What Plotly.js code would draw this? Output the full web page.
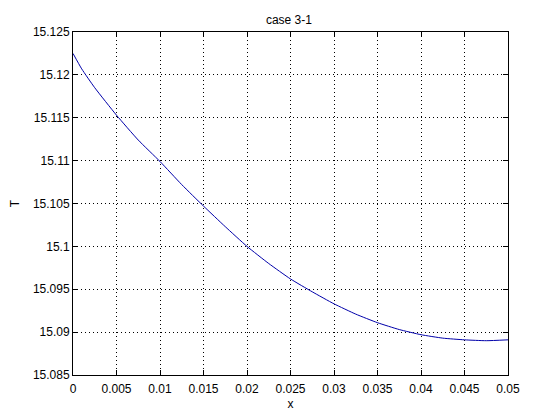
<!DOCTYPE html>
<html>
<head>
<meta charset="utf-8">
<script src="https://cdn.plot.ly/plotly-3.0.1.min.js"></script>
<style>html,body{margin:0;padding:0;background:#fff;}#chart{width:560px;height:420px;}</style>
</head>
<body>
<div id="chart"></div>
<script>
const xValues = [0, 0.001, 0.0025, 0.005, 0.0075, 0.01, 0.0125, 0.015, 0.0175, 0.02, 0.0225, 0.025, 0.0275, 0.03, 0.0325, 0.035, 0.0375, 0.04, 0.0425, 0.045, 0.0475, 0.05];
const tValues = [15.1225, 15.1207, 15.1185, 15.1153, 15.1124, 15.1099, 15.1072, 15.1047, 15.1023, 15.1000, 15.0980, 15.0962, 15.0947, 15.0933, 15.0921, 15.0911, 15.0903, 15.0897, 15.0893, 15.0891, 15.0890, 15.0891];
const xTickVals = [0, 0.005, 0.01, 0.015, 0.02, 0.025, 0.03, 0.035, 0.04, 0.045, 0.05];
const xTickText = ["0", "0.005", "0.01", "0.015", "0.02", "0.025", "0.03", "0.035", "0.04", "0.045", "0.05"];
const yTickVals = [15.085, 15.09, 15.095, 15.1, 15.105, 15.11, 15.115, 15.12, 15.125];
const yTickText = ["15.085", "15.09", "15.095", "15.1", "15.105", "15.11", "15.115", "15.12", "15.125"];

const font = {family: "Liberation Sans, Arial, sans-serif", size: 12, color: "#000"};
const axisCommon = {
  showline: true, linecolor: "#000", linewidth: 1, mirror: "ticks",
  ticks: "inside", ticklen: 5, tickcolor: "#000", tickwidth: 1,
  showgrid: true, gridcolor: "#000", gridwidth: 1, griddash: "1px,3px",
  zeroline: false, tickmode: "array", tickfont: font
};
const layout = {
  width: 560, height: 420,
  paper_bgcolor: "#fff", plot_bgcolor: "#fff",
  margin: {l: 73, r: 52, t: 32, b: 45},
  showlegend: false,
  font: font,
  title: {text: "case 3-1", font: font, x: 0.516, xanchor: "center", y: 1 - 19.5/420, yanchor: "middle", yref: "container"},
  xaxis: Object.assign({}, axisCommon, {range: [0, 0.05], tickvals: xTickVals, ticktext: xTickText,
    ticklabelstandoff: 3,
    title: {text: "x", font: font, standoff: 4}}),
  yaxis: Object.assign({}, axisCommon, {range: [15.085, 15.125], tickvals: yTickVals, ticktext: yTickText,
    title: {text: "T", font: font, standoff: 10}})
};
Plotly.newPlot("chart", [{
  x: xValues, y: tValues, type: "scatter", mode: "lines",
  line: {color: "rgb(0,0,170)", width: 1, shape: "spline", smoothing: 0.5}
}], layout, {staticPlot: true});
</script>
</body>
</html>
